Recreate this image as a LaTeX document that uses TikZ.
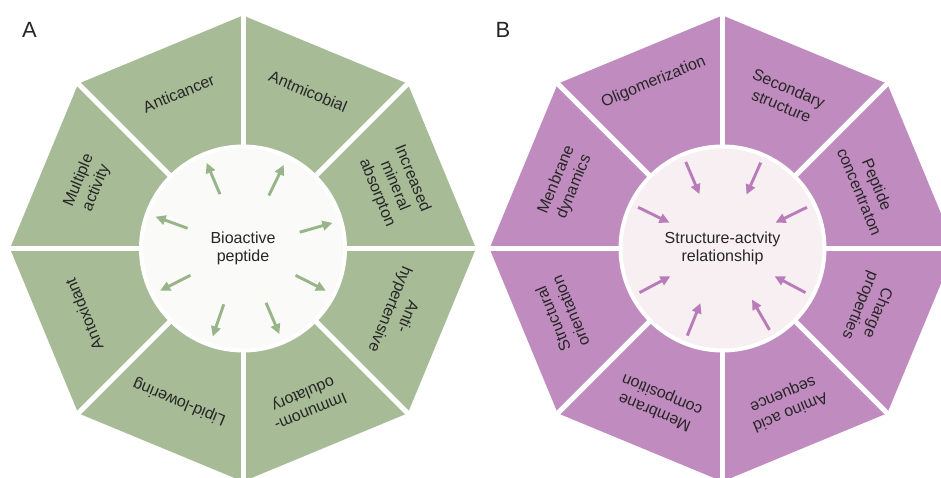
\documentclass[tikz,border=0pt]{standalone}
\usepackage{fontspec}
\setmainfont{Liberation Sans}
\usetikzlibrary{arrows.meta}

\definecolor{sage}{RGB}{166,187,150}
\definecolor{sagearrow}{RGB}{152,180,137}
\definecolor{orchid}{RGB}{192,139,190}
\definecolor{orchidarrow}{RGB}{184,124,184}
\definecolor{hubgrey}{RGB}{250,250,249}
\definecolor{hubpink}{RGB}{248,239,243}

\begin{document}
\begin{tikzpicture}[
    x=1pt, y=1pt,
    every node/.style={font=\fontsize{16}{18}\selectfont, align=center, text=black!85},
    sectorlabel/.style={inner sep=1pt, font=\fontsize{16}{19}\selectfont},
    gapline/.style={draw=white, line width=5pt},
    hub/.style={circle, draw=white, line width=4pt, minimum size=204pt, inner sep=0pt},
    outarrow/.style={-{Triangle[length=10pt,width=9.5pt]}, line width=2.9pt, draw=sagearrow},
    inarrow/.style={-{Triangle[length=10pt,width=9.5pt]}, line width=2.9pt, draw=orchidarrow},
    panel/.style={font=\fontsize{22}{24}\selectfont, text=black!85}
]
\fill[white] (0,0) rectangle (941,478);
\useasboundingbox (0,0) rectangle (941,478);

% Panel letters
\node[panel] (A) at (29.5,448) {A};
\node[panel] (B) at (503,448) {B};

% Panel A: bioactive peptide
\begin{scope}[shift={(243,229.5)}]
\fill[sage] (0:233) -- (45:233) -- (90:233) -- (135:233) -- (180:233)
    -- (225:233) -- (270:233) -- (315:233) -- cycle;
\foreach \a in {0,45,...,315}
    \draw[gapline] (0,0) -- (\a:245);
\node[hub, fill=hubgrey] (bio) at (0,0) {Bioactive\\peptide};

% Activities
\node[sectorlabel, rotate=22.5] (anticancer) at (112.5:168) {Anticancer};
\node[sectorlabel, rotate=-22.5] (antimicro) at (67.5:170) {Antmicobial};
\node[sectorlabel, rotate=-67.5] (mineral) at (22.5:164) {Increased\\mineral\\absorpton};
\node[sectorlabel, rotate=-112.5] (antihyper) at (-22.5:168) {Anti-\\hypertensive};
\node[sectorlabel, rotate=-157.5] (immuno) at (-67.5:166) {Immunom-\\odulatory};
\node[sectorlabel, rotate=157.5] (lipid) at (-112.5:166) {Lipid-lowering};
\node[sectorlabel, rotate=112.5] (antiox) at (-157.5:172) {Antoxidant};
\node[sectorlabel, rotate=67.5] (multi) at (157.5:168) {Multiple\\activity};

% Arrows out of the hub
\foreach \ang [count=\i] in {113,64,16,-27,-67,-109,-153,160} {
    \coordinate (bio-tail-\i) at (\ang:59);
    \coordinate (bio-tip-\i) at (\ang:93);
    \draw[outarrow] (bio-tail-\i) -- (bio-tip-\i);
}
\end{scope}

% Panel B: structure-activity relationship
\begin{scope}[shift={(722.5,229.5)}]
\fill[orchid] (0:233) -- (45:233) -- (90:233) -- (135:233) -- (180:233)
    -- (225:233) -- (270:233) -- (315:233) -- cycle;
\foreach \a in {0,45,...,315}
    \draw[gapline] (0,0) -- (\a:245);
\node[hub, fill=hubpink] (sar) at (0,0) {Structure-actvity\\relationship};

% Factors
\node[sectorlabel, rotate=22.5] (oligo) at (112.5:180) {Oligomerization};
\node[sectorlabel, rotate=-22.5] (secondary) at (67.5:164) {Secondary\\structure};
\node[sectorlabel, rotate=-67.5] (concentr) at (22.5:158) {Peptide\\concentraton};
\node[sectorlabel, rotate=-112.5] (charge) at (-22.5:158) {Charge\\properties};
\node[sectorlabel, rotate=-157.5] (sequence) at (-67.5:167) {Amino acid\\sequence};
\node[sectorlabel, rotate=157.5] (composition) at (-112.5:167) {Membrane\\composition};
\node[sectorlabel, rotate=112.5] (orient) at (-157.5:174) {Structural\\orientation};
\node[sectorlabel, rotate=67.5] (dynamics) at (157.5:170) {Menbrane\\dynamics};

% Arrows into the hub
\foreach \ang [count=\i] in {113,66,26,-28,-60,-112,-152,154} {
    \coordinate (sar-tail-\i) at (\ang:94);
    \coordinate (sar-tip-\i) at (\ang:59);
    \draw[inarrow] (sar-tail-\i) -- (sar-tip-\i);
}
\end{scope}

\end{tikzpicture}
\end{document}
